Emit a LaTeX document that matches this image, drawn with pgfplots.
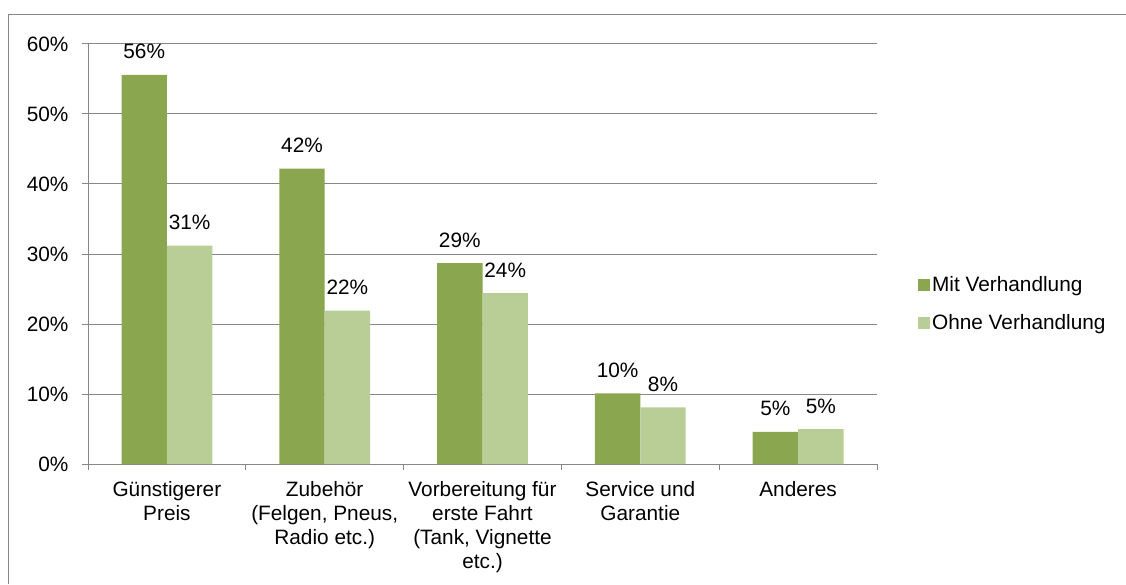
\documentclass[border=0pt]{standalone}
\usepackage{pgfplots}
\pgfplotsset{compat=1.18}
\usepackage{fontspec}
\setmainfont{Liberation Sans}
\definecolor{mit}{HTML}{8AA64F}
\definecolor{ohne}{HTML}{B9CE97}
\definecolor{axgray}{HTML}{878787}
\newcommand{\fs}{\fontsize{20.8}{24}\selectfont}
\begin{document}
\begin{tikzpicture}[x=1pt,y=1pt]
\useasboundingbox (0,0) rectangle (1126,584);
\draw[axgray,line width=1.3pt] (8.5,0)--(8.5,569.5)--(1126,569.5);
\begin{axis}[
  at={(88pt,120pt)}, anchor=south west,
  scale only axis, width=789pt, height=420pt,
  ybar=0pt, bar width=45.4pt,
  xmin=-0.5, xmax=4.5, ymin=0, ymax=60,
  ytick={0,10,...,60},
  yticklabel={\pgfmathprintnumber{\tick}\%},
  /pgf/number format/assume math mode=true,
  xtick={-0.5,0.5,...,4.5}, xticklabels={},
  extra x ticks={0,1,2,3,4},
  extra x tick labels={{G\"unstigerer\\Preis}, {Zubeh\"or\\(Felgen, Pneus,\\Radio etc.)}, {Vorbereitung f\"ur\\erste Fahrt\\(Tank, Vignette\\etc.)}, {Service und\\Garantie}, {Anderes}},
  extra x tick style={major tick length=0pt, grid=none},
  x tick label style={align=center, font=\fs, yshift=-14pt},
  y tick label style={font=\fs, xshift=-10pt},
  major tick length=6pt,
  tick align=outside,
  tick style={axgray, line width=1pt},
  axis x line*=bottom, axis y line*=left,
  axis line style={axgray, line width=1pt},
  ymajorgrids, grid style={axgray, line width=1pt},
  every axis plot/.append style={draw=none},
  nodes near coords={\pgfmathprintnumber[fixed,precision=0]{\pgfplotspointmeta}\%},
  nodes near coords style={font=\fs, anchor=base, yshift=16pt, inner sep=0pt},
  legend style={at={(1.048,0.381)}, anchor=west, draw=none, fill=none, font=\fs, row sep=17pt},
  legend cell align=left,
  legend image code/.code={\fill[#1] (0pt,-6pt) rectangle (12pt,6pt);},
  clip=false,
]
\addplot[fill=mit] coordinates {(0,55.6) (1,42.2) (2,28.7) (3,10.1) (4,4.6)};
\addplot[fill=ohne] coordinates {(0,31.2) (1,21.9) (2,24.4) (3,8.1) (4,5.0)};
\legend{Mit Verhandlung, Ohne Verhandlung}
\end{axis}
\end{tikzpicture}
\end{document}
